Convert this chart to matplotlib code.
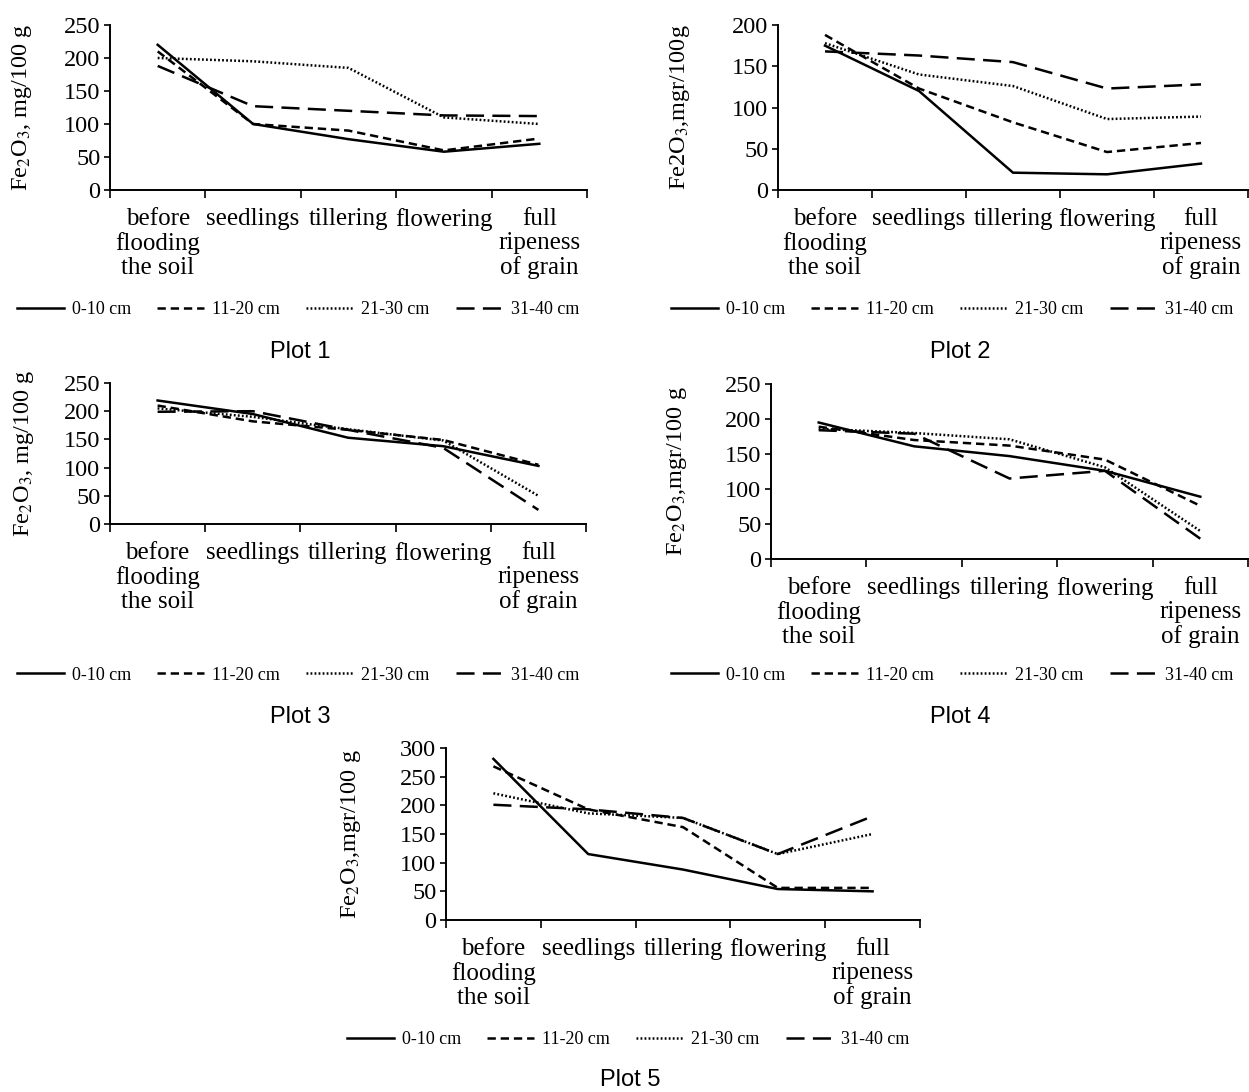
import matplotlib
matplotlib.use("Agg")
import matplotlib.pyplot as plt
from matplotlib.lines import Line2D
from matplotlib.ticker import FixedLocator, MultipleLocator

plt.rcParams["font.family"] = ["Liberation Serif", "DejaVu Serif"]
plt.rcParams["mathtext.fontset"] = "stix"
plt.rcParams["lines.scale_dashes"] = False

W, H = 1249, 1092

stages = ["before\nflooding\nthe soil", "seedlings", "tillering", "flowering",
          "full\nripeness\nof grain"]
depths = ["0-10 cm", "11-20 cm", "21-30 cm", "31-40 cm"]

# Fe2O3 per depth layer (rows: 0-10, 11-20, 21-30, 31-40 cm)
plot1 = [[220, 100, 77, 58, 70],
         [210, 100, 90, 60, 78],
         [200, 195, 185, 110, 100],
         [188, 127, 120, 113, 112]]
plot2 = [[175, 120, 21, 19, 32],
         [188, 123, 82, 46, 57],
         [178, 140, 126, 86, 89],
         [168, 163, 155, 123, 128]]
plot3 = [[219, 195, 153, 138, 103],
         [210, 182, 167, 149, 105],
         [205, 190, 168, 148, 50],
         [199, 200, 167, 135, 25]]
plot4 = [[195, 161, 147, 126, 89],
         [189, 170, 162, 142, 76],
         [186, 180, 171, 131, 40],
         [184, 179, 115, 126, 29]]
plot5 = [[281, 115, 88, 54, 50],
         [268, 193, 162, 56, 56],
         [221, 186, 178, 115, 150],
         [201, 193, 178, 115, 181]]

styles = ["-", (0, (6, 3.5)), (0, (1.3, 1.6)), (0, (13, 6))]

# (data, y max, y label, axes px (l, t, r, b), label x px, legend centre px, title, title centre px)
panels = [
    (plot1, 250, "Fe$_2$O$_3$, mg/100 g", (110, 25, 587, 190), 34, (298, 310), "Plot 1", (300, 352)),
    (plot2, 200, "Fe2O$_3$,mgr/100g", (778, 25, 1248, 190), 692, (952, 310), "Plot 2", (960, 352)),
    (plot3, 250, "Fe$_2$O$_3$, mg/100 g", (110, 383, 586, 524), 36, (298, 675), "Plot 3", (300, 717)),
    (plot4, 250, "Fe$_2$O$_3$,mgr/100 g", (771, 384, 1248, 559), 689, (952, 675), "Plot 4", (960, 717)),
    (plot5, 300, "Fe$_2$O$_3$,mgr/100 g", (446, 748, 920, 920), 363, (628, 1040), "Plot 5", (630, 1080)),
]

fig = plt.figure(figsize=(W / 100, H / 100), dpi=100)

for data, ymax, ylabel, (l, t, r, b), lab_x, leg_c, title, title_c in panels:
    ax = fig.add_axes([l / W, 1 - b / H, (r - l) / W, (b - t) / H])
    x = list(range(len(stages)))
    for vals, ls in zip(data, styles):
        ax.plot(x, vals, color="black", linestyle=ls, linewidth=1.8)
    ax.set_xlim(-0.5, len(stages) - 0.5)
    ax.set_ylim(0, ymax)
    ax.yaxis.set_major_locator(MultipleLocator(50))
    ax.set_xticks(x)
    ax.set_xticklabels(stages, fontsize=18, linespacing=1.12)
    ax.xaxis.set_minor_locator(FixedLocator([i - 0.5 for i in range(len(stages) + 1)]))
    ax.tick_params(axis="x", which="major", length=0, pad=13)
    ax.tick_params(axis="x", which="minor", length=6, width=1.2, direction="out")
    ax.tick_params(axis="y", length=4, width=1.2, labelsize=17.5, pad=3)
    for side in ("top", "right"):
        ax.spines[side].set_visible(False)
    for side in ("left", "bottom"):
        ax.spines[side].set_linewidth(1.4)
    ax.set_ylabel(ylabel, fontsize=17.5)
    ax.yaxis.set_label_coords((lab_x - l) / (r - l), 0.5)

    handles = [Line2D([], [], color="black", linestyle=ls, linewidth=1.8) for ls in styles]
    fig.legend(handles, depths, loc="center",
               bbox_to_anchor=(leg_c[0] / W, 1 - leg_c[1] / H), ncol=4, frameon=False,
               fontsize=13, handlelength=2.6, handletextpad=0.45, columnspacing=1.45,
               borderpad=0, borderaxespad=0)
    fig.text(title_c[0] / W, 1 - title_c[1] / H, title, ha="center", va="center",
             family="Liberation Sans", fontsize=17)

fig.savefig("out.png", dpi=100)
